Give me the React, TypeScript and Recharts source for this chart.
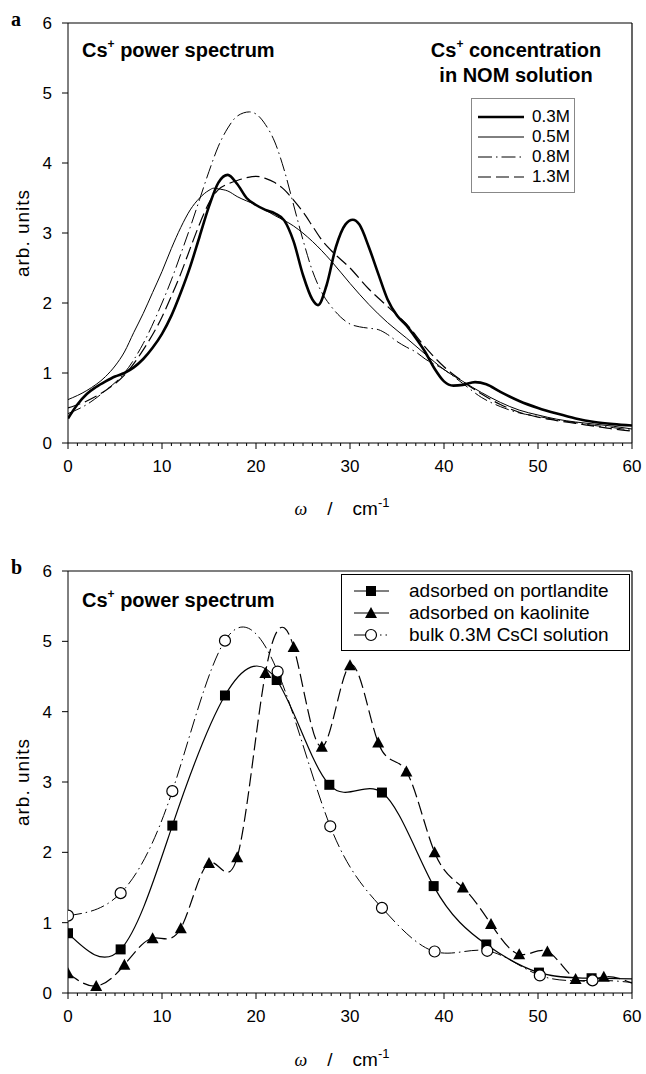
import React from "react";
import { LineChart, Line, XAxis, YAxis, ReferenceLine } from "recharts";

const SANS = "'Liberation Sans', Arial, sans-serif";
const SERIF = "'Liberation Serif', 'Times New Roman', serif";

// ---- panel a: Cs+ power spectrum vs. concentration in NOM solution
const x03 = [0, 1, 2, 3, 4, 5, 6, 7, 8, 9, 10, 11, 12, 13, 14, 15, 16, 17, 18, 19, 20, 21, 22, 23, 24, 25, 26, 26.6, 27.5, 28.5, 29.5, 30.3, 31, 32, 33, 34, 35, 36, 37, 38, 39, 40, 41, 42, 43.3, 44.5, 46, 48, 50, 52, 54, 56, 58, 60];
const y03 = [0.35, 0.55, 0.7, 0.8, 0.88, 0.95, 1.0, 1.08, 1.2, 1.36, 1.56, 1.82, 2.15, 2.52, 2.95, 3.38, 3.72, 3.83, 3.7, 3.5, 3.4, 3.33, 3.28, 3.18, 2.88, 2.4, 2.05, 1.97, 2.25, 2.8, 3.12, 3.19, 3.12, 2.8, 2.42, 2.05, 1.82, 1.68, 1.5, 1.3, 1.06, 0.88, 0.82, 0.83, 0.87, 0.84, 0.73, 0.6, 0.5, 0.42, 0.35, 0.3, 0.27, 0.25];

const x05 = [0, 2, 4, 5, 6, 7, 8, 9, 10, 11, 12, 13, 14, 15, 15.5, 16, 17, 18, 20, 22, 24, 26, 28, 30, 32, 34, 36, 38, 40, 42, 44, 46, 48, 50, 52, 54, 56, 58, 60];
const y05 = [0.62, 0.75, 0.95, 1.1, 1.3, 1.58, 1.85, 2.15, 2.45, 2.78, 3.08, 3.33, 3.5, 3.61, 3.64, 3.63, 3.6, 3.52, 3.4, 3.25, 3.1, 2.88, 2.6, 2.28, 1.98, 1.72, 1.5, 1.27, 1.05, 0.88, 0.72, 0.58, 0.47, 0.4, 0.34, 0.3, 0.27, 0.24, 0.2];

const x08 = [0, 2, 4, 6, 8, 10, 11, 12, 13, 14, 15, 16, 17, 18, 19.3, 20, 21, 22, 23, 24, 25, 26, 27, 28, 29, 30, 31, 32, 33, 34, 35, 36, 37, 38, 40, 42, 44, 46, 48, 50, 52, 54, 56, 58, 60];
const y08 = [0.42, 0.55, 0.75, 1.0, 1.42, 2.0, 2.33, 2.7, 3.08, 3.48, 3.88, 4.24, 4.5, 4.67, 4.73, 4.7, 4.55, 4.3, 3.9, 3.4, 2.9, 2.46, 2.15, 1.95, 1.8, 1.7, 1.66, 1.64, 1.62, 1.55, 1.45, 1.37, 1.3, 1.2, 1.05, 0.85, 0.65, 0.52, 0.43, 0.38, 0.33, 0.29, 0.25, 0.22, 0.18];

const x13 = [0, 2, 4, 6, 8, 10, 11, 12, 13, 14, 15, 16, 17, 18, 19, 20, 21, 22, 23, 24, 25, 26, 27, 28, 30, 32, 34, 36, 38, 40, 42, 44, 46, 48, 50, 52, 54, 56, 58, 60];
const y13 = [0.5, 0.6, 0.75, 0.97, 1.33, 1.8, 2.1, 2.42, 2.78, 3.13, 3.43, 3.62, 3.7, 3.75, 3.79, 3.81, 3.78, 3.72, 3.62, 3.47, 3.3, 3.1, 2.9, 2.75, 2.5, 2.2, 1.95, 1.7, 1.37, 1.09, 0.88, 0.7, 0.55, 0.44, 0.37, 0.32, 0.28, 0.24, 0.2, 0.17];

const concLabels = ["0.3M", "0.5M", "0.8M", "1.3M"];

// ---- panel b: adsorbed vs bulk (last point at 60 carries the curve to the frame, no marker)
const portX = [0, 5.6, 11.1, 16.7, 22.2, 27.8, 33.4, 38.9, 44.5, 50.1, 55.7, 60];
const portY = [0.85, 0.62, 2.38, 4.23, 4.45, 2.96, 2.85, 1.52, 0.69, 0.29, 0.21, 0.2];

const kaoX = [0, 3, 6, 9, 12, 15, 18, 21, 24, 27, 30, 33, 36, 39, 42, 45, 48, 51, 54, 57, 60];
const kaoY = [0.28, 0.1, 0.4, 0.78, 0.92, 1.85, 1.93, 4.55, 4.92, 3.5, 4.66, 3.56, 3.15, 2.0, 1.5, 0.98, 0.55, 0.59, 0.2, 0.23, 0.14];

const bulkX = [0, 5.6, 11.1, 16.7, 22.3, 27.9, 33.4, 39.0, 44.6, 50.2, 55.8, 60];
const bulkY = [1.1, 1.42, 2.87, 5.01, 4.57, 2.37, 1.21, 0.59, 0.6, 0.25, 0.18, 0.15];

const sampleLabels = ["adsorbed on portlandite", "adsorbed on kaolinite", "bulk 0.3M CsCl solution"];

const xTicks = Array.from({ length: 61 }, (_, i) => i);
const yTicks = [0, 1, 2, 3, 4, 5, 6];

const toPts = (xs: number[], ys: number[]) => xs.map((x, i) => ({ x, y: ys[i] }));

const DASHDOT = "14 4 1.5 4";
const DASH = "13 5";

const topSeries = [
  { label: concLabels[0], data: toPts(x03, y03), width: 2.6, dash: undefined },
  { label: concLabels[1], data: toPts(x05, y05), width: 1, dash: undefined },
  { label: concLabels[2], data: toPts(x08, y08), width: 1, dash: DASHDOT },
  { label: concLabels[3], data: toPts(x13, y13), width: 1.2, dash: DASH },
];

const XTick = (props: any) => {
  const { x, y, payload } = props;
  const major = payload.value % 10 === 0;
  return (
    <g>
      <line x1={x} x2={x} y1={y} y2={y + (major ? 6 : 3)} stroke="#000" strokeWidth={1} />
      {major && (
        <text x={x} y={y + 29} textAnchor="middle" fontSize={17} fontFamily={SANS} fill="#000">
          {payload.value}
        </text>
      )}
    </g>
  );
};

const Marker = ({ kind, cx, cy }: { kind: string; cx: number; cy: number }) => {
  if (kind === "square") return <rect x={cx - 5} y={cy - 5} width={10} height={10} fill="#000" />;
  if (kind === "triangle")
    return <polygon points={`${cx},${cy - 6} ${cx + 6},${cy + 5} ${cx - 6},${cy + 5}`} fill="#000" />;
  return <circle cx={cx} cy={cy} r={5.5} fill="#fff" stroke="#000" strokeWidth={1.2} />;
};

const makeDot = (kind: string) => (props: any) => {
  const { cx, cy, payload, index } = props;
  if (payload.x >= 60) return <g key={index} />;
  return (
    <g key={index}>
      <Marker kind={kind} cx={cx} cy={cy} />
    </g>
  );
};

const TopLegend = () => (
  <div
    style={{
      position: "absolute",
      left: 471,
      top: 98,
      width: 104,
      height: 95,
      boxSizing: "border-box",
      border: "1px solid #888",
      background: "#fff",
      padding: "8px 0 0 5px",
      fontFamily: SANS,
      fontSize: 17,
    }}
  >
    {topSeries.map((s) => (
      <div key={s.label} style={{ display: "flex", alignItems: "center", height: 20 }}>
        <svg width={48} height={10}>
          <line x1={1} x2={47} y1={5} y2={5} stroke="#000" strokeWidth={s.width} strokeDasharray={s.dash} />
        </svg>
        <span style={{ marginLeft: 7 }}>{s.label}</span>
      </div>
    ))}
  </div>
);

const BottomLegend = () => (
  <div
    style={{
      position: "absolute",
      left: 341,
      top: 574,
      width: 289,
      height: 77,
      boxSizing: "border-box",
      border: "1px solid #000",
      background: "#fff",
      padding: "5px 0 0 11px",
      fontFamily: SANS,
      fontSize: 19,
    }}
  >
    {sampleLabels.map((label, i) => (
      <div key={label} style={{ display: "flex", alignItems: "center", height: 22 }}>
        <svg width={40} height={14}>
          <line x1={1} x2={18} y1={7} y2={7} stroke="#000" strokeWidth={1} />
          {i < 2 ? (
            <line x1={18} x2={36} y1={7} y2={7} stroke="#000" strokeWidth={1} />
          ) : (
            <line x1={27} x2={37} y1={7} y2={7} stroke="#000" strokeWidth={1.2} strokeDasharray="1.5 4" />
          )}
          <Marker kind={["square", "triangle", "circle"][i]} cx={18} cy={7} />
        </svg>
        <span style={{ marginLeft: 16 }}>{label}</span>
      </div>
    ))}
  </div>
);

const axisText = { fontSize: 17, fontFamily: SANS, fill: "#000" };

const Frame = ({ children, bottom }: any) => (
  <LineChart width={646} height={530} margin={{ top: 23, right: 14, bottom, left: 0 }}>
    <XAxis
      dataKey="x"
      type="number"
      domain={[0, 60]}
      ticks={xTicks}
      interval={0}
      allowDataOverflow
      tick={<XTick />}
      tickLine={false}
      tickSize={0}
      tickMargin={0}
      height={30}
      axisLine={{ stroke: "#000" }}
    />
    <YAxis
      dataKey="y"
      type="number"
      domain={[0, 6]}
      ticks={yTicks}
      allowDataOverflow
      width={68}
      tickSize={6}
      tickMargin={10}
      tick={axisText}
      tickLine={{ stroke: "#000" }}
      axisLine={{ stroke: "#000" }}
    />
    <ReferenceLine y={6} stroke="#000" strokeWidth={1.2} />
    <ReferenceLine x={60} stroke="#000" strokeWidth={1.2} />
    {children}
  </LineChart>
);

const Omega = () => (
  <div style={{ position: "absolute", left: 0, width: 684, textAlign: "center", fontFamily: SANS, fontSize: 19, whiteSpace: "nowrap" }}>
    <span style={{ fontFamily: SERIF, fontStyle: "italic", fontSize: 18 }}>ω</span>
    <span style={{ margin: "0 20px" }}>/</span>
    <span>
      cm<sup style={{ fontSize: 13, verticalAlign: 8 }}>-1</sup>
    </span>
  </div>
);

const title = { position: "absolute" as const, fontFamily: SANS, fontWeight: 700, fontSize: 20, lineHeight: "25px", whiteSpace: "nowrap" as const };
const sup = { fontSize: 12, verticalAlign: 9 };
const yTitle = {
  position: "absolute" as const,
  left: 23,
  transform: "translate(-50%, -50%) rotate(-90deg)",
  fontFamily: SANS,
  fontSize: 19,
  letterSpacing: 1,
  whiteSpace: "nowrap" as const,
};

export default function App() {
  return (
    <div style={{ position: "absolute", left: 0, top: 0, width: 646, height: 1074, background: "#fff" }}>
      {/* panel a */}
      <div style={{ position: "absolute", left: 0, top: 0 }}>
        <Frame bottom={57}>
          {topSeries.map((s) => (
            <Line
              key={s.label}
              data={s.data}
              dataKey="y"
              name={s.label}
              type="monotone"
              stroke="#000"
              strokeWidth={s.width}
              strokeDasharray={s.dash}
              dot={false}
              activeDot={false}
              isAnimationActive={false}
            />
          ))}
        </Frame>
      </div>
      <TopLegend />
      <div style={{ position: "absolute", left: 11, top: 8, fontFamily: SERIF, fontWeight: 700, fontSize: 20 }}>a</div>
      <div style={{ ...title, left: 82, top: 32 }}>
        Cs<sup style={sup}>+</sup> power spectrum
      </div>
      <div style={{ ...title, left: 410, top: 32, width: 212, textAlign: "center" }}>
        Cs<sup style={sup}>+</sup> concentration
        <br />
        in NOM solution
      </div>
      <div style={{ ...yTitle, top: 233 }}>arb. units</div>
      <div style={{ position: "absolute", left: 0, top: 495 }}>
        <Omega />
      </div>

      {/* panel b */}
      <div style={{ position: "absolute", left: 0, top: 548 }}>
        <Frame bottom={55}>
          <Line data={toPts(portX, portY)} dataKey="y" name={sampleLabels[0]} type="natural" stroke="#000" strokeWidth={1.2} dot={makeDot("square")} activeDot={false} isAnimationActive={false} />
          <Line data={toPts(kaoX, kaoY)} dataKey="y" name={sampleLabels[1]} type="natural" stroke="#000" strokeWidth={1.2} strokeDasharray={DASH} dot={makeDot("triangle")} activeDot={false} isAnimationActive={false} />
          <Line data={toPts(bulkX, bulkY)} dataKey="y" name={sampleLabels[2]} type="natural" stroke="#000" strokeWidth={1} strokeDasharray={DASHDOT} dot={makeDot("circle")} activeDot={false} isAnimationActive={false} />
        </Frame>
      </div>
      <BottomLegend />
      <div style={{ position: "absolute", left: 11, top: 556, fontFamily: SERIF, fontWeight: 700, fontSize: 20 }}>b</div>
      <div style={{ ...title, left: 82, top: 582 }}>
        Cs<sup style={sup}>+</sup> power spectrum
      </div>
      <div style={{ ...yTitle, top: 782 }}>arb. units</div>
      <div style={{ position: "absolute", left: 0, top: 1046 }}>
        <Omega />
      </div>
    </div>
  );
}
